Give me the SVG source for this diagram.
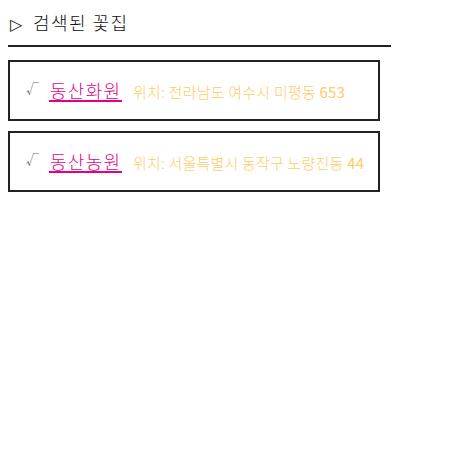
<svg xmlns="http://www.w3.org/2000/svg" width="462" height="451" viewBox="0 0 462 451">
<style>
text{font-family:"Noto Sans CJK KR","Noto Sans",sans-serif;font-weight:300}
.head{font-size:18px;fill:#111}
.tri{font-size:16px;fill:#111;font-family:"DejaVu Sans",sans-serif}
.box{fill:#fff;stroke:#222;stroke-width:2}
.chk{font-size:13px;fill:#666}
.name{font-size:18px;fill:#e6007e}
.ul{stroke:#e6007e;stroke-width:2}
.loc{font-size:15px;fill:#ffcc66}
.num{font-weight:400}
</style>
<rect width="462" height="451" fill="#fff"/>
<g id="title">
<text class="tri" x="10" y="30">▷</text>
<text class="head" x="33" y="30" textLength="94" lengthAdjust="spacing">검색된 꽃집</text>
<line x1="8" y1="46" x2="391" y2="46" stroke="#222" stroke-width="2"/>
</g>
<g id="shop1">
<rect class="box" x="9" y="61" width="370" height="59"/>
<text class="chk" x="26" y="93">√</text>
<text class="name" x="50" y="98" textLength="70" lengthAdjust="spacing">동산화원</text>
<line class="ul" x1="49" y1="101" x2="122" y2="101"/>
<text class="loc" x="133" y="98" textLength="212" lengthAdjust="spacing">위치: 전라남도 여수시 미평동 <tspan class="num">653</tspan></text>
</g>
<g id="shop2">
<rect class="box" x="9" y="132" width="370" height="59"/>
<text class="chk" x="26" y="164">√</text>
<text class="name" x="50" y="169" textLength="70" lengthAdjust="spacing">동산농원</text>
<line class="ul" x1="49" y1="172" x2="122" y2="172"/>
<text class="loc" x="133" y="169" textLength="231" lengthAdjust="spacing">위치: 서울특별시 동작구 노량진동 <tspan class="num">44</tspan></text>
</g>
<g id="connectors"/>
</svg>
